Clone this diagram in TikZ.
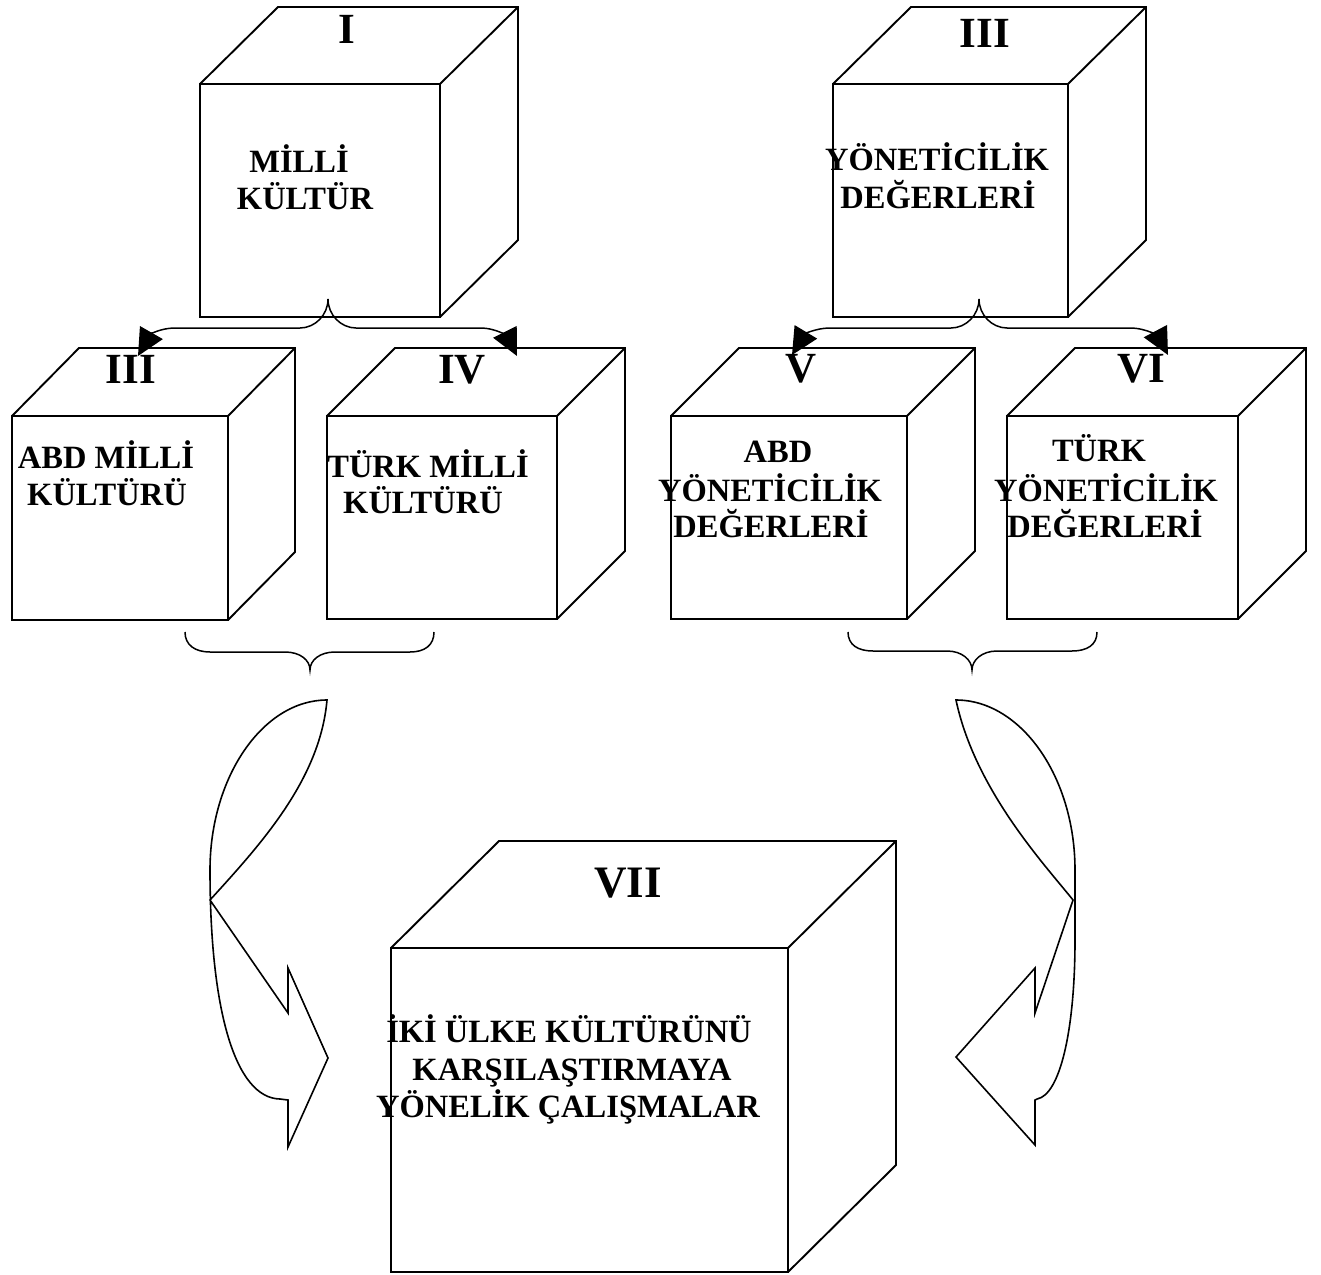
\documentclass[tikz,border=0pt]{standalone}
\usepackage{fontspec}
\setmainfont{Liberation Serif}
\usetikzlibrary{arrows.meta}

% #1 name, #2 left, #3 top, #4 right, #5 bottom of the front face, #6/#7 depth offset
\newcommand{\mycube}[7]{%
  \node[face, minimum width={(#4-#2)*1pt}, minimum height={(#5-#3)*1pt}]
    (#1) at ({(#2+#4)/2},{(#3+#5)/2}) {};
  \draw[edge] (#1.north west) -- ++(#6,-#7) -- ++({#4-#2},0) -- ++(0,{#5-#3}) -- (#1.south east);
  \draw[edge] (#1.north east) -- ++(#6,-#7);
}

\begin{document}
\begin{tikzpicture}[x=1pt, y=-1pt,
  edge/.style={line width=1.9pt, line join=miter},
  face/.style={draw, line width=1.9pt, inner sep=0pt, outer sep=0pt},
  txt/.style={font=\bfseries\fontsize{32.5}{37}\selectfont, inner sep=0pt, anchor=base},
  num/.style={font=\bfseries\fontsize{43}{50}\selectfont, inner sep=0pt, anchor=base},
  bignum/.style={font=\bfseries\fontsize{45}{52}\selectfont, inner sep=0pt, anchor=base},
  brace/.style={line width=1.5pt},
  head/.style={{Triangle[length=27pt,width=26pt]}-{Triangle[length=27pt,width=26pt]}},
  bent/.style={line width=1.6pt, line join=miter}]
\useasboundingbox (0,0) rectangle (1321,1274);

% ---- cubes ----
\mycube{cI}{200}{84}{440}{317}{78}{77}
\mycube{cIII}{833}{84}{1068}{317}{78}{77}
\mycube{cA}{12}{416}{228}{620}{67}{68}
\mycube{cB}{327}{416}{557}{619}{68}{68}
\mycube{cC}{671}{416}{907}{619}{68}{68}
\mycube{cD}{1007}{416}{1238}{619}{68}{68}
\mycube{cE}{391}{948}{788}{1272}{108}{107}

% ---- labels ----
\node[num] (lI) at (347,43) {I};
\node[txt] (tIa) at (299,172) {MİLLİ};
\node[txt] (tIb) at (305,209) {KÜLTÜR};

\node[num] (lIII) at (985,47) {III};
\node[txt] (tIIIa) at (937,170) {YÖNETİCİLİK};
\node[txt] (tIIIb) at (938,208) {DEĞERLERİ};

\node[num] (lA) at (131,383) {III};
\node[txt] (tAa) at (106,468) {ABD MİLLİ};
\node[txt] (tAb) at (107,505) {KÜLTÜRÜ};

\node[num] (lB) at (462,383) {IV};
\node[txt] (tBa) at (428,477) {TÜRK MİLLİ};
\node[txt] (tBb) at (423,513) {KÜLTÜRÜ};

\node[num] (lC) at (801,382) {V};
\node[txt] (tCa) at (778,462) {ABD};
\node[txt] (tCb) at (770,501) {YÖNETİCİLİK};
\node[txt] (tCc) at (771,537) {DEĞERLERİ};

\node[num] (lD) at (1141,382) {VI};
\node[txt] (tDa) at (1099,461) {TÜRK};
\node[txt] (tDb) at (1106,501) {YÖNETİCİLİK};
\node[txt] (tDc) at (1105,537) {DEĞERLERİ};

\node[bignum] (lE) at (628,897) {VII};
\node[txt] (tEa) at (569,1042) {İKİ ÜLKE KÜLTÜRÜNÜ};
\node[txt] (tEb) at (572,1080) {KARŞILAŞTIRMAYA};
\node[txt] (tEc) at (568,1117) {YÖNELİK ÇALIŞMALAR};

% ---- split arrows under the top cubes ----
\coordinate (sI) at (328,299);
\coordinate (aIl) at (138,356);
\coordinate (aIr) at (517,356);
\draw[brace, head] (aIl) .. controls (150,335) and (160,328) .. (175,328) -- (300,328)
  .. controls (315,328) and (328,315) .. (sI)
  .. controls (328,315) and (341,328) .. (356,328) -- (480,328)
  .. controls (498,328) and (508,338) .. (aIr);

\coordinate (sIII) at (979,299);
\coordinate (aIIIl) at (792,355);
\coordinate (aIIIr) at (1168,355);
\draw[brace, head] (aIIIl) .. controls (804,335) and (815,328) .. (830,328) -- (951,328)
  .. controls (966,328) and (979,315) .. (sIII)
  .. controls (979,315) and (992,328) .. (1007,328) -- (1130,328)
  .. controls (1148,328) and (1159,338) .. (aIIIr);

% ---- braces under the middle rows ----
\coordinate (bLa) at (185,632);
\coordinate (bLm) at (310,670);
\coordinate (bLb) at (434,632);
\draw[brace] (bLa) .. controls (185,645) and (195,652) .. (210,652) -- (285,652)
  .. controls (300,652) and (310,660) .. (bLm)
  .. controls (310,660) and (320,652) .. (335,652) -- (410,652)
  .. controls (425,652) and (434,645) .. (bLb);

\coordinate (bRa) at (848,632);
\coordinate (bRm) at (972,670);
\coordinate (bRb) at (1097,632);
\draw[brace] (bRa) .. controls (848,645) and (858,651) .. (873,651) -- (947,651)
  .. controls (962,651) and (972,660) .. (bRm)
  .. controls (972,660) and (982,651) .. (997,651) -- (1072,651)
  .. controls (1087,651) and (1097,645) .. (bRb);

% ---- curved block arrows towards the bottom cube ----
\coordinate (kL) at (327,700);
\draw[bent] (kL) .. controls (263,700) and (210,777) .. (210,870)
  .. controls (210,1010) and (235,1098) .. (280,1099) -- (288,1100)
  -- (288,1147) -- (328,1058) -- (288,968) -- (288,1013) -- (210,900)
  .. controls (260,845) and (320,780) .. (kL) -- cycle;

\coordinate (kR) at (956,700);
\draw[bent] (kR) .. controls (1021,700) and (1075,777) .. (1075,870) -- (1075,940)
  .. controls (1075,1030) and (1060,1095) .. (1037,1099) -- (1035,1100)
  -- (1035,1145) -- (956,1057) -- (1035,968) -- (1035,1013) -- (1073,900)
  .. controls (1045,865) and (975,790) .. (kR) -- cycle;

\end{tikzpicture}
\end{document}
